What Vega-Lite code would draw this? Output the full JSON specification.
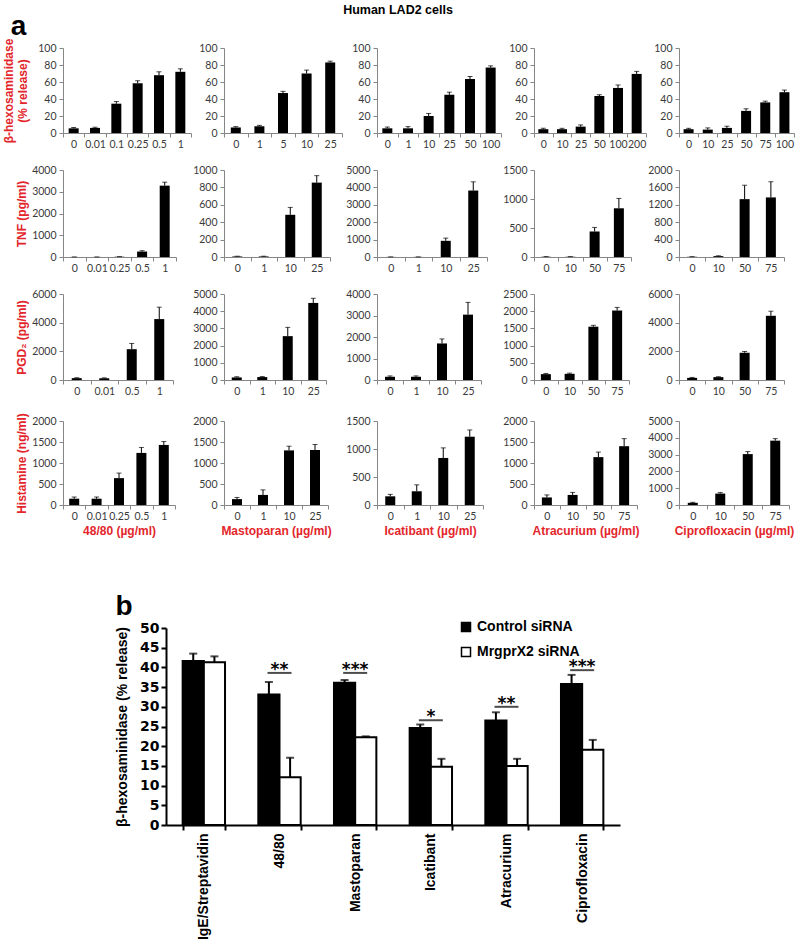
{
"$schema":"https://vega.github.io/schema/vega-lite/v6.json",
"background":"white",
"padding":{"left":2,"top":3,"right":0,"bottom":0},
"config":{"view":{"stroke":null},"numberFormat":"d",
"axis":{"domainColor":"#868686","tickColor":"#868686","tickSize":4,"labelFont":"Lato","labelFontSize":10.5,"labelColor":"#3a3a3a","grid":false,"labelPadding":3,"titleFont":"Liberation Sans","titleFontWeight":"bold","titleFontSize":12,"titleColor":"#E3262B","titleLineHeight":14},
"axisX":{"tickBand":"extent","labelAngle":0,"labelPadding":2,"titlePadding":4},
"axisY":{"titlePadding":3}},
"datasets":{
"a":[
{"row":1,"drug":"48/80","dose":"0","mean":5.5,"upper":6.5},{"row":1,"drug":"48/80","dose":"0.01","mean":6,"upper":6.8},{"row":1,"drug":"48/80","dose":"0.1","mean":34.5,"upper":37},{"row":1,"drug":"48/80","dose":"0.25","mean":58.5,"upper":61.5},{"row":1,"drug":"48/80","dose":"0.5","mean":68,"upper":72},{"row":1,"drug":"48/80","dose":"1","mean":72,"upper":75.5},
{"row":1,"drug":"Mast","dose":"0","mean":6.5,"upper":7.5},{"row":1,"drug":"Mast","dose":"1","mean":8,"upper":9},{"row":1,"drug":"Mast","dose":"5","mean":47,"upper":49},{"row":1,"drug":"Mast","dose":"10","mean":70,"upper":74},{"row":1,"drug":"Mast","dose":"25","mean":83,"upper":84.5},
{"row":1,"drug":"Icat","dose":"0","mean":5.5,"upper":7},{"row":1,"drug":"Icat","dose":"1","mean":5.5,"upper":7.5},{"row":1,"drug":"Icat","dose":"10","mean":20,"upper":23},{"row":1,"drug":"Icat","dose":"25","mean":45,"upper":48},{"row":1,"drug":"Icat","dose":"50","mean":63.5,"upper":66.5},{"row":1,"drug":"Icat","dose":"100","mean":77,"upper":79},
{"row":1,"drug":"Atra","dose":"0","mean":4.5,"upper":5.5},{"row":1,"drug":"Atra","dose":"10","mean":4.5,"upper":5.5},{"row":1,"drug":"Atra","dose":"25","mean":7.5,"upper":9.5},{"row":1,"drug":"Atra","dose":"50","mean":43.5,"upper":45},{"row":1,"drug":"Atra","dose":"100","mean":53,"upper":56.5},{"row":1,"drug":"Atra","dose":"200","mean":69.5,"upper":72.5},
{"row":1,"drug":"Cipro","dose":"0","mean":4.5,"upper":5.5},{"row":1,"drug":"Cipro","dose":"10","mean":4,"upper":6},{"row":1,"drug":"Cipro","dose":"25","mean":6,"upper":8},{"row":1,"drug":"Cipro","dose":"50","mean":26,"upper":28.5},{"row":1,"drug":"Cipro","dose":"75","mean":36,"upper":37.5},{"row":1,"drug":"Cipro","dose":"100","mean":48,"upper":50.5},
{"row":2,"drug":"48/80","dose":"0","mean":2,"upper":4},{"row":2,"drug":"48/80","dose":"0.01","mean":2,"upper":4},{"row":2,"drug":"48/80","dose":"0.25","mean":12,"upper":18},{"row":2,"drug":"48/80","dose":"0.5","mean":250,"upper":290},{"row":2,"drug":"48/80","dose":"1","mean":3280,"upper":3440},
{"row":2,"drug":"Mast","dose":"0","mean":6,"upper":9},{"row":2,"drug":"Mast","dose":"1","mean":6,"upper":9},{"row":2,"drug":"Mast","dose":"10","mean":485,"upper":570},{"row":2,"drug":"Mast","dose":"25","mean":855,"upper":935},
{"row":2,"drug":"Icat","dose":"0","mean":5,"upper":8},{"row":2,"drug":"Icat","dose":"1","mean":5,"upper":8},{"row":2,"drug":"Icat","dose":"10","mean":930,"upper":1085},{"row":2,"drug":"Icat","dose":"25","mean":3820,"upper":4320},
{"row":2,"drug":"Atra","dose":"0","mean":4,"upper":7},{"row":2,"drug":"Atra","dose":"10","mean":4,"upper":7},{"row":2,"drug":"Atra","dose":"50","mean":440,"upper":510},{"row":2,"drug":"Atra","dose":"75","mean":840,"upper":1010},
{"row":2,"drug":"Cipro","dose":"0","mean":5,"upper":8},{"row":2,"drug":"Cipro","dose":"10","mean":20,"upper":28},{"row":2,"drug":"Cipro","dose":"50","mean":1330,"upper":1650},{"row":2,"drug":"Cipro","dose":"75","mean":1370,"upper":1730},
{"row":3,"drug":"48/80","dose":"0","mean":130,"upper":160},{"row":3,"drug":"48/80","dose":"0.01","mean":120,"upper":150},{"row":3,"drug":"48/80","dose":"0.5","mean":2150,"upper":2550},{"row":3,"drug":"48/80","dose":"1","mean":4250,"upper":5080},
{"row":3,"drug":"Mast","dose":"0","mean":150,"upper":190},{"row":3,"drug":"Mast","dose":"1","mean":170,"upper":200},{"row":3,"drug":"Mast","dose":"10","mean":2550,"upper":3060},{"row":3,"drug":"Mast","dose":"25","mean":4480,"upper":4750},
{"row":3,"drug":"Icat","dose":"0","mean":150,"upper":190},{"row":3,"drug":"Icat","dose":"1","mean":150,"upper":190},{"row":3,"drug":"Icat","dose":"10","mean":1700,"upper":1910},{"row":3,"drug":"Icat","dose":"25","mean":3040,"upper":3610},
{"row":3,"drug":"Atra","dose":"0","mean":170,"upper":190},{"row":3,"drug":"Atra","dose":"10","mean":180,"upper":200},{"row":3,"drug":"Atra","dose":"50","mean":1550,"upper":1590},{"row":3,"drug":"Atra","dose":"75","mean":2020,"upper":2110},
{"row":3,"drug":"Cipro","dose":"0","mean":150,"upper":180},{"row":3,"drug":"Cipro","dose":"10","mean":200,"upper":230},{"row":3,"drug":"Cipro","dose":"50","mean":1900,"upper":1990},{"row":3,"drug":"Cipro","dose":"75","mean":4480,"upper":4800},
{"row":4,"drug":"48/80","dose":"0","mean":150,"upper":190},{"row":4,"drug":"48/80","dose":"0.01","mean":150,"upper":190},{"row":4,"drug":"48/80","dose":"0.25","mean":640,"upper":760},{"row":4,"drug":"48/80","dose":"0.5","mean":1240,"upper":1370},{"row":4,"drug":"48/80","dose":"1","mean":1430,"upper":1510},
{"row":4,"drug":"Mast","dose":"0","mean":140,"upper":180},{"row":4,"drug":"Mast","dose":"1","mean":240,"upper":360},{"row":4,"drug":"Mast","dose":"10","mean":1300,"upper":1400},{"row":4,"drug":"Mast","dose":"25","mean":1310,"upper":1440},
{"row":4,"drug":"Icat","dose":"0","mean":155,"upper":190},{"row":4,"drug":"Icat","dose":"1","mean":245,"upper":360},{"row":4,"drug":"Icat","dose":"10","mean":840,"upper":1020},{"row":4,"drug":"Icat","dose":"25","mean":1220,"upper":1340},
{"row":4,"drug":"Atra","dose":"0","mean":180,"upper":240},{"row":4,"drug":"Atra","dose":"10","mean":240,"upper":300},{"row":4,"drug":"Atra","dose":"50","mean":1140,"upper":1260},{"row":4,"drug":"Atra","dose":"75","mean":1400,"upper":1580},
{"row":4,"drug":"Cipro","dose":"0","mean":130,"upper":160},{"row":4,"drug":"Cipro","dose":"10","mean":680,"upper":740},{"row":4,"drug":"Cipro","dose":"50","mean":3030,"upper":3180},{"row":4,"drug":"Cipro","dose":"75","mean":3830,"upper":3950}
],
"b":[
{"cat":"IgE/Streptavidin","grp":"Control siRNA","mean":41.6,"upper":43.5},{"cat":"IgE/Streptavidin","grp":"MrgprX2 siRNA","mean":41.3,"upper":42.8},
{"cat":"48/80","grp":"Control siRNA","mean":33.1,"upper":36.3},{"cat":"48/80","grp":"MrgprX2 siRNA","mean":12.1,"upper":17.1},
{"cat":"Mastoparan","grp":"Control siRNA","mean":36.1,"upper":36.8},{"cat":"Mastoparan","grp":"MrgprX2 siRNA","mean":22.3,"upper":22.5},
{"cat":"Icatibant","grp":"Control siRNA","mean":24.6,"upper":25.5},{"cat":"Icatibant","grp":"MrgprX2 siRNA","mean":14.8,"upper":16.8},
{"cat":"Atracurium","grp":"Control siRNA","mean":26.5,"upper":28.6},{"cat":"Atracurium","grp":"MrgprX2 siRNA","mean":15.0,"upper":16.8},
{"cat":"Ciprofloxacin","grp":"Control siRNA","mean":35.8,"upper":38.1},{"cat":"Ciprofloxacin","grp":"MrgprX2 siRNA","mean":19.1,"upper":21.6}
],
"sig":[
{"cat":"48/80","y":38.6,"stars":"**"},{"cat":"Mastoparan","y":38.6,"stars":"***"},{"cat":"Icatibant","y":26.6,"stars":"*"},{"cat":"Atracurium","y":30,"stars":"**"},{"cat":"Ciprofloxacin","y":39.3,"stars":"***"}
]},
"vconcat":[
{"concat":[
{"width":128,"height":85,"title":{"text":"a","anchor":"start","frame":"bounds","fontSize":28,"font":"Liberation Sans","fontWeight":"bold","baseline":"alphabetic","offset":-20,"dx":8,"dy":5,"color":"black"},"data":{"name":"a"},"transform":[{"filter":"datum.row==1&&datum.drug=='48/80'"}],
"encoding":{"x":{"field":"dose","type":"nominal","sort":null,"scale":{"paddingInner":0,"paddingOuter":0},"title":null},
"y":{"field":"mean","type":"quantitative","title":["β-hexosaminidase","(% release)"],"scale":{"domain":[0,100],"nice":false},"axis":{"values":[0,20,40,60,80,100],"titlePadding":8}}},
"layer":[{"mark":{"type":"bar","color":"black","width":10},"encoding":{}},{"mark":{"type":"rule","color":"black","strokeWidth":1},"encoding":{"y2":{"field":"upper"}}},{"mark":{"type":"tick","orient":"horizontal","color":"black","thickness":1,"size":5},"encoding":{"y":{"field":"upper","type":"quantitative","title":["β-hexosaminidase","(% release)"]}}}]},
{"width":118,"height":85,"data":{"name":"a"},"transform":[{"filter":"datum.row==1&&datum.drug=='Mast'"}],
"encoding":{"x":{"field":"dose","type":"nominal","sort":null,"scale":{"paddingInner":0,"paddingOuter":0},"title":null},
"y":{"field":"mean","type":"quantitative","title":null,"scale":{"domain":[0,100],"nice":false},"axis":{"values":[0,20,40,60,80,100]}}},
"layer":[{"mark":{"type":"bar","color":"black","width":10},"encoding":{}},{"mark":{"type":"rule","color":"black","strokeWidth":1},"encoding":{"y2":{"field":"upper"}}},{"mark":{"type":"tick","orient":"horizontal","color":"black","thickness":1,"size":5},"encoding":{"y":{"field":"upper","type":"quantitative","title":null}}}]},
{"width":124,"height":85,"title":{"text":"Human LAD2 cells","anchor":"middle","frame":"group","fontSize":12.5,"font":"Liberation Sans","fontWeight":"bold","baseline":"alphabetic","offset":17,"dx":-41,"color":"black"},"data":{"name":"a"},"transform":[{"filter":"datum.row==1&&datum.drug=='Icat'"}],
"encoding":{"x":{"field":"dose","type":"nominal","sort":null,"scale":{"paddingInner":0,"paddingOuter":0},"title":null},
"y":{"field":"mean","type":"quantitative","title":null,"scale":{"domain":[0,100],"nice":false},"axis":{"values":[0,20,40,60,80,100]}}},
"layer":[{"mark":{"type":"bar","color":"black","width":10},"encoding":{}},{"mark":{"type":"rule","color":"black","strokeWidth":1},"encoding":{"y2":{"field":"upper"}}},{"mark":{"type":"tick","orient":"horizontal","color":"black","thickness":1,"size":5},"encoding":{"y":{"field":"upper","type":"quantitative","title":null}}}]},
{"width":112,"height":85,"data":{"name":"a"},"transform":[{"filter":"datum.row==1&&datum.drug=='Atra'"}],
"encoding":{"x":{"field":"dose","type":"nominal","sort":null,"scale":{"paddingInner":0,"paddingOuter":0},"title":null},
"y":{"field":"mean","type":"quantitative","title":null,"scale":{"domain":[0,100],"nice":false},"axis":{"values":[0,20,40,60,80,100]}}},
"layer":[{"mark":{"type":"bar","color":"black","width":10},"encoding":{}},{"mark":{"type":"rule","color":"black","strokeWidth":1},"encoding":{"y2":{"field":"upper"}}},{"mark":{"type":"tick","orient":"horizontal","color":"black","thickness":1,"size":5},"encoding":{"y":{"field":"upper","type":"quantitative","title":null}}}]},
{"width":115,"height":85,"data":{"name":"a"},"transform":[{"filter":"datum.row==1&&datum.drug=='Cipro'"}],
"encoding":{"x":{"field":"dose","type":"nominal","sort":null,"scale":{"paddingInner":0,"paddingOuter":0},"title":null},
"y":{"field":"mean","type":"quantitative","title":null,"scale":{"domain":[0,100],"nice":false},"axis":{"values":[0,20,40,60,80,100]}}},
"layer":[{"mark":{"type":"bar","color":"black","width":10},"encoding":{}},{"mark":{"type":"rule","color":"black","strokeWidth":1},"encoding":{"y2":{"field":"upper"}}},{"mark":{"type":"tick","orient":"horizontal","color":"black","thickness":1,"size":5},"encoding":{"y":{"field":"upper","type":"quantitative","title":null}}}]},

{"width":113,"height":87,"data":{"name":"a"},"transform":[{"filter":"datum.row==2&&datum.drug=='48/80'"}],
"encoding":{"x":{"field":"dose","type":"nominal","sort":null,"scale":{"paddingInner":0,"paddingOuter":0},"title":null},
"y":{"field":"mean","type":"quantitative","title":"TNF (pg/ml)","scale":{"domain":[0,4000],"nice":false},"axis":{"values":[0,1000,2000,3000,4000]}}},
"layer":[{"mark":{"type":"bar","color":"black","width":10},"encoding":{}},{"mark":{"type":"rule","color":"black","strokeWidth":1},"encoding":{"y2":{"field":"upper"}}},{"mark":{"type":"tick","orient":"horizontal","color":"black","thickness":1,"size":5},"encoding":{"y":{"field":"upper","type":"quantitative","title":"TNF (pg/ml)"}}}]},
{"width":106,"height":87,"data":{"name":"a"},"transform":[{"filter":"datum.row==2&&datum.drug=='Mast'"}],
"encoding":{"x":{"field":"dose","type":"nominal","sort":null,"scale":{"paddingInner":0,"paddingOuter":0},"title":null},
"y":{"field":"mean","type":"quantitative","title":null,"scale":{"domain":[0,1000],"nice":false},"axis":{"values":[0,200,400,600,800,1000]}}},
"layer":[{"mark":{"type":"bar","color":"black","width":10},"encoding":{}},{"mark":{"type":"rule","color":"black","strokeWidth":1},"encoding":{"y2":{"field":"upper"}}},{"mark":{"type":"tick","orient":"horizontal","color":"black","thickness":1,"size":5},"encoding":{"y":{"field":"upper","type":"quantitative","title":null}}}]},
{"width":110,"height":87,"data":{"name":"a"},"transform":[{"filter":"datum.row==2&&datum.drug=='Icat'"}],
"encoding":{"x":{"field":"dose","type":"nominal","sort":null,"scale":{"paddingInner":0,"paddingOuter":0},"title":null},
"y":{"field":"mean","type":"quantitative","title":null,"scale":{"domain":[0,5000],"nice":false},"axis":{"values":[0,1000,2000,3000,4000,5000]}}},
"layer":[{"mark":{"type":"bar","color":"black","width":10},"encoding":{}},{"mark":{"type":"rule","color":"black","strokeWidth":1},"encoding":{"y2":{"field":"upper"}}},{"mark":{"type":"tick","orient":"horizontal","color":"black","thickness":1,"size":5},"encoding":{"y":{"field":"upper","type":"quantitative","title":null}}}]},
{"width":97,"height":87,"data":{"name":"a"},"transform":[{"filter":"datum.row==2&&datum.drug=='Atra'"}],
"encoding":{"x":{"field":"dose","type":"nominal","sort":null,"scale":{"paddingInner":0,"paddingOuter":0},"title":null},
"y":{"field":"mean","type":"quantitative","title":null,"scale":{"domain":[0,1500],"nice":false},"axis":{"values":[0,500,1000,1500]}}},
"layer":[{"mark":{"type":"bar","color":"black","width":10},"encoding":{}},{"mark":{"type":"rule","color":"black","strokeWidth":1},"encoding":{"y2":{"field":"upper"}}},{"mark":{"type":"tick","orient":"horizontal","color":"black","thickness":1,"size":5},"encoding":{"y":{"field":"upper","type":"quantitative","title":null}}}]},
{"width":105,"height":87,"data":{"name":"a"},"transform":[{"filter":"datum.row==2&&datum.drug=='Cipro'"}],
"encoding":{"x":{"field":"dose","type":"nominal","sort":null,"scale":{"paddingInner":0,"paddingOuter":0},"title":null},
"y":{"field":"mean","type":"quantitative","title":null,"scale":{"domain":[0,2000],"nice":false},"axis":{"values":[0,400,800,1200,1600,2000]}}},
"layer":[{"mark":{"type":"bar","color":"black","width":10},"encoding":{}},{"mark":{"type":"rule","color":"black","strokeWidth":1},"encoding":{"y2":{"field":"upper"}}},{"mark":{"type":"tick","orient":"horizontal","color":"black","thickness":1,"size":5},"encoding":{"y":{"field":"upper","type":"quantitative","title":null}}}]},

{"width":110,"height":86,"data":{"name":"a"},"transform":[{"filter":"datum.row==3&&datum.drug=='48/80'"}],
"encoding":{"x":{"field":"dose","type":"nominal","sort":null,"scale":{"paddingInner":0,"paddingOuter":0},"title":null},
"y":{"field":"mean","type":"quantitative","title":"PGD₂ (pg/ml)","scale":{"domain":[0,6000],"nice":false},"axis":{"values":[0,2000,4000,6000]}}},
"layer":[{"mark":{"type":"bar","color":"black","width":10},"encoding":{}},{"mark":{"type":"rule","color":"black","strokeWidth":1},"encoding":{"y2":{"field":"upper"}}},{"mark":{"type":"tick","orient":"horizontal","color":"black","thickness":1,"size":5},"encoding":{"y":{"field":"upper","type":"quantitative","title":"PGD₂ (pg/ml)"}}}]},
{"width":102,"height":86,"data":{"name":"a"},"transform":[{"filter":"datum.row==3&&datum.drug=='Mast'"}],
"encoding":{"x":{"field":"dose","type":"nominal","sort":null,"scale":{"paddingInner":0,"paddingOuter":0},"title":null},
"y":{"field":"mean","type":"quantitative","title":null,"scale":{"domain":[0,5000],"nice":false},"axis":{"values":[0,1000,2000,3000,4000,5000]}}},
"layer":[{"mark":{"type":"bar","color":"black","width":10},"encoding":{}},{"mark":{"type":"rule","color":"black","strokeWidth":1},"encoding":{"y2":{"field":"upper"}}},{"mark":{"type":"tick","orient":"horizontal","color":"black","thickness":1,"size":5},"encoding":{"y":{"field":"upper","type":"quantitative","title":null}}}]},
{"width":104,"height":86,"data":{"name":"a"},"transform":[{"filter":"datum.row==3&&datum.drug=='Icat'"}],
"encoding":{"x":{"field":"dose","type":"nominal","sort":null,"scale":{"paddingInner":0,"paddingOuter":0},"title":null},
"y":{"field":"mean","type":"quantitative","title":null,"scale":{"domain":[0,4000],"nice":false},"axis":{"values":[0,1000,2000,3000,4000]}}},
"layer":[{"mark":{"type":"bar","color":"black","width":10},"encoding":{}},{"mark":{"type":"rule","color":"black","strokeWidth":1},"encoding":{"y2":{"field":"upper"}}},{"mark":{"type":"tick","orient":"horizontal","color":"black","thickness":1,"size":5},"encoding":{"y":{"field":"upper","type":"quantitative","title":null}}}]},
{"width":95,"height":86,"data":{"name":"a"},"transform":[{"filter":"datum.row==3&&datum.drug=='Atra'"}],
"encoding":{"x":{"field":"dose","type":"nominal","sort":null,"scale":{"paddingInner":0,"paddingOuter":0},"title":null},
"y":{"field":"mean","type":"quantitative","title":null,"scale":{"domain":[0,2500],"nice":false},"axis":{"values":[0,500,1000,1500,2000,2500]}}},
"layer":[{"mark":{"type":"bar","color":"black","width":10},"encoding":{}},{"mark":{"type":"rule","color":"black","strokeWidth":1},"encoding":{"y2":{"field":"upper"}}},{"mark":{"type":"tick","orient":"horizontal","color":"black","thickness":1,"size":5},"encoding":{"y":{"field":"upper","type":"quantitative","title":null}}}]},
{"width":105,"height":86,"data":{"name":"a"},"transform":[{"filter":"datum.row==3&&datum.drug=='Cipro'"}],
"encoding":{"x":{"field":"dose","type":"nominal","sort":null,"scale":{"paddingInner":0,"paddingOuter":0},"title":null},
"y":{"field":"mean","type":"quantitative","title":null,"scale":{"domain":[0,6000],"nice":false},"axis":{"values":[0,2000,4000,6000]}}},
"layer":[{"mark":{"type":"bar","color":"black","width":10},"encoding":{}},{"mark":{"type":"rule","color":"black","strokeWidth":1},"encoding":{"y2":{"field":"upper"}}},{"mark":{"type":"tick","orient":"horizontal","color":"black","thickness":1,"size":5},"encoding":{"y":{"field":"upper","type":"quantitative","title":null}}}]},

{"width":112,"height":84,"data":{"name":"a"},"transform":[{"filter":"datum.row==4&&datum.drug=='48/80'"}],
"encoding":{"x":{"field":"dose","type":"nominal","sort":null,"scale":{"paddingInner":0,"paddingOuter":0},"title":"48/80 (µg/ml)"},
"y":{"field":"mean","type":"quantitative","title":"Histamine (ng/ml)","scale":{"domain":[0,2000],"nice":false},"axis":{"values":[0,500,1000,1500,2000]}}},
"layer":[{"mark":{"type":"bar","color":"black","width":10},"encoding":{}},{"mark":{"type":"rule","color":"black","strokeWidth":1},"encoding":{"y2":{"field":"upper"}}},{"mark":{"type":"tick","orient":"horizontal","color":"black","thickness":1,"size":5},"encoding":{"y":{"field":"upper","type":"quantitative","title":"Histamine (ng/ml)"}}}]},
{"width":104,"height":84,"data":{"name":"a"},"transform":[{"filter":"datum.row==4&&datum.drug=='Mast'"}],
"encoding":{"x":{"field":"dose","type":"nominal","sort":null,"scale":{"paddingInner":0,"paddingOuter":0},"title":"Mastoparan (µg/ml)"},
"y":{"field":"mean","type":"quantitative","title":null,"scale":{"domain":[0,2000],"nice":false},"axis":{"values":[0,500,1000,1500,2000]}}},
"layer":[{"mark":{"type":"bar","color":"black","width":10},"encoding":{}},{"mark":{"type":"rule","color":"black","strokeWidth":1},"encoding":{"y2":{"field":"upper"}}},{"mark":{"type":"tick","orient":"horizontal","color":"black","thickness":1,"size":5},"encoding":{"y":{"field":"upper","type":"quantitative","title":null}}}]},
{"width":106,"height":84,"data":{"name":"a"},"transform":[{"filter":"datum.row==4&&datum.drug=='Icat'"}],
"encoding":{"x":{"field":"dose","type":"nominal","sort":null,"scale":{"paddingInner":0,"paddingOuter":0},"title":"Icatibant (µg/ml)"},
"y":{"field":"mean","type":"quantitative","title":null,"scale":{"domain":[0,1500],"nice":false},"axis":{"values":[0,500,1000,1500]}}},
"layer":[{"mark":{"type":"bar","color":"black","width":10},"encoding":{}},{"mark":{"type":"rule","color":"black","strokeWidth":1},"encoding":{"y2":{"field":"upper"}}},{"mark":{"type":"tick","orient":"horizontal","color":"black","thickness":1,"size":5},"encoding":{"y":{"field":"upper","type":"quantitative","title":null}}}]},
{"width":103,"height":84,"data":{"name":"a"},"transform":[{"filter":"datum.row==4&&datum.drug=='Atra'"}],
"encoding":{"x":{"field":"dose","type":"nominal","sort":null,"scale":{"paddingInner":0,"paddingOuter":0},"title":"Atracurium (µg/ml)"},
"y":{"field":"mean","type":"quantitative","title":null,"scale":{"domain":[0,2000],"nice":false},"axis":{"values":[0,500,1000,1500,2000]}}},
"layer":[{"mark":{"type":"bar","color":"black","width":10},"encoding":{}},{"mark":{"type":"rule","color":"black","strokeWidth":1},"encoding":{"y2":{"field":"upper"}}},{"mark":{"type":"tick","orient":"horizontal","color":"black","thickness":1,"size":5},"encoding":{"y":{"field":"upper","type":"quantitative","title":null}}}]},
{"width":110,"height":84,"data":{"name":"a"},"transform":[{"filter":"datum.row==4&&datum.drug=='Cipro'"}],
"encoding":{"x":{"field":"dose","type":"nominal","sort":null,"scale":{"paddingInner":0,"paddingOuter":0},"title":"Ciprofloxacin (µg/ml)"},
"y":{"field":"mean","type":"quantitative","title":null,"scale":{"domain":[0,5000],"nice":false},"axis":{"values":[0,1000,2000,3000,4000,5000]}}},
"layer":[{"mark":{"type":"bar","color":"black","width":10},"encoding":{}},{"mark":{"type":"rule","color":"black","strokeWidth":1},"encoding":{"y2":{"field":"upper"}}},{"mark":{"type":"tick","orient":"horizontal","color":"black","thickness":1,"size":5},"encoding":{"y":{"field":"upper","type":"quantitative","title":null}}}]}
],"columns":5,"align":"each","spacing":{"row":15,"column":0}},

{"hconcat":[
{"width":52,"height":10,"data":{"values":[]},"mark":{"type":"point"},"encoding":{}},
{"width":454,"height":197,
"title":{"text":"b","anchor":"start","frame":"bounds","fontSize":28,"font":"Liberation Sans","fontWeight":"bold","baseline":"alphabetic","offset":-22,"color":"black"},
"data":{"name":"b"},
"encoding":{
"x":{"field":"cat","type":"nominal","sort":null,"title":null,"scale":{"domain":["IgE/Streptavidin","48/80","Mastoparan","Icatibant","Atracurium","Ciprofloxacin"],"paddingInner":0.44,"paddingOuter":0.22},
"axis":{"labelAngle":-90,"labelFont":"Liberation Sans","labelFontWeight":"bold","labelFontSize":14,"labelColor":"black","labelPadding":3,"domainColor":"black","domainWidth":2,"tickColor":"black","tickWidth":2,"tickSize":5,"tickBand":"extent","labelLimit":300}},
"y":{"field":"mean","type":"quantitative","title":"β-hexosaminidase (% release)","scale":{"domain":[0,50],"nice":false},
"axis":{"values":[0,5,10,15,20,25,30,35,40,45,50],"domainColor":"black","domainWidth":2,"tickColor":"black","tickWidth":2,"tickSize":5,"labelFont":"DejaVu Sans","labelFontWeight":"bold","labelFontSize":14,"labelColor":"black","labelPadding":2,"titleFont":"Liberation Sans","titleFontWeight":"bold","titleFontSize":14,"titleColor":"black","titlePadding":10}}},
"layer":[
{"mark":{"type":"bar","stroke":"black","strokeWidth":2},"encoding":{"xOffset":{"field":"grp","type":"nominal","scale":{"domain":["Control siRNA","MrgprX2 siRNA"]}},
"fill":{"field":"grp","type":"nominal","scale":{"domain":["Control siRNA","MrgprX2 siRNA"],"range":["black","white"]},
"legend":{"title":null,"orient":"none","legendX":396,"legendY":572,"symbolType":"square","symbolSize":81,"symbolStrokeColor":"black","symbolStrokeWidth":1.5,"labelFont":"Liberation Sans","labelFontWeight":"bold","labelFontSize":14,"labelColor":"black","rowPadding":9,"labelOffset":4,"padding":0}}}},
{"mark":{"type":"rule","color":"black","strokeWidth":2},"encoding":{"xOffset":{"field":"grp","type":"nominal","scale":{"domain":["Control siRNA","MrgprX2 siRNA"]}},"y2":{"field":"upper"}}},
{"mark":{"type":"tick","orient":"horizontal","color":"black","thickness":2,"size":8},"encoding":{"xOffset":{"field":"grp","type":"nominal","scale":{"domain":["Control siRNA","MrgprX2 siRNA"]}},"y":{"field":"upper","type":"quantitative","title":"β-hexosaminidase (% release)"}}},
{"data":{"name":"sig"},"mark":{"type":"tick","orient":"horizontal","color":"black","thickness":2,"size":24},"encoding":{"y":{"field":"y","type":"quantitative","title":"β-hexosaminidase (% release)"}}},
{"data":{"name":"sig"},"mark":{"type":"text","font":"DejaVu Sans","fontWeight":"bold","fontSize":17,"baseline":"alphabetic","dy":2,"color":"black"},"encoding":{"y":{"field":"y","type":"quantitative","title":"β-hexosaminidase (% release)"},"text":{"field":"stars"}}}
]}
],"spacing":0}
],
"spacing":56
}
